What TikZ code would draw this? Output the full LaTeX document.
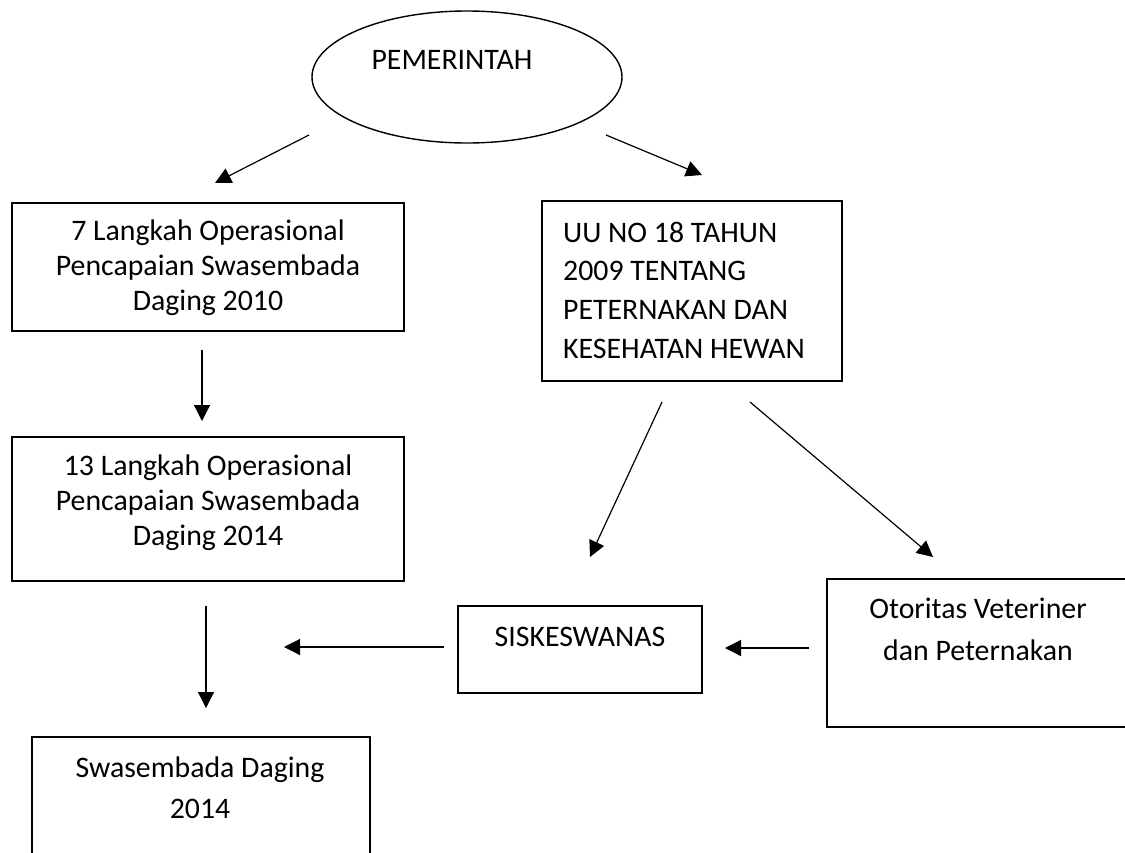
\documentclass[tikz,border=0pt]{standalone}
\usepackage{fontspec}
\setmainfont{Carlito}
\usetikzlibrary{shapes.geometric,arrows.meta}
\begin{document}
\begin{tikzpicture}[x=1pt,y=-1pt,
  boxnode/.style={draw=black, line width=1.4pt, inner sep=0pt, rectangle},
  txt/.style={inner sep=0pt, font=\fontsize{29.8}{35}\selectfont, align=center},
  arr/.style={line width=1.2pt, -{Triangle[length=16pt,width=16pt]}}]
\useasboundingbox (0,0) rectangle (1125,852);
\clip (0,0) rectangle (1125,852);
\fill[white] (0,0) rectangle (1125,852);

% ellipse
\node[ellipse, draw=black, line width=1.4pt, inner sep=0pt, minimum width=310pt, minimum height=132pt] (gov) at (467,77) {};
\node[txt] (govt) at (452,60) {PEMERINTAH};

% boxes
\node[boxnode, minimum width=392pt, minimum height=128pt] (b1) at (208,267) {};
\node[txt] (b1t) at (208,268) {7 Langkah Operasional\\Pencapaian Swasembada\\Daging 2010};

\node[boxnode, minimum width=392pt, minimum height=144pt] (b2) at (208,509) {};
\node[txt] (b2t) at (208,503) {13 Langkah Operasional\\Pencapaian Swasembada\\Daging 2014};

\node[boxnode, minimum width=300pt, minimum height=180pt] (uu) at (692,291) {};
\node[txt, align=left, anchor=west, font=\fontsize{29.8}{38.7}\selectfont] (uut) at (563,290) {UU NO 18 TAHUN\\2009 TENTANG\\PETERNAKAN DAN\\KESEHATAN HEWAN};

\node[boxnode, minimum width=244pt, minimum height=87pt] (sis) at (580,649.5) {};
\node[txt] (sist) at (580,637) {SISKESWANAS};

\node[boxnode, minimum width=320pt, minimum height=148pt] (oto) at (987,653) {};
\node[txt, font=\fontsize{29.8}{42}\selectfont] (otot) at (978,629) {Otoritas Veteriner\\dan Peternakan};

\node[boxnode, minimum width=338pt, minimum height=143pt] (sw) at (201,808.5) {};
\node[txt, font=\fontsize{29.8}{41}\selectfont] (swt) at (200,787.5) {Swasembada Daging\\2014};

% arrow end points
\coordinate (a1s) at (309,135); \coordinate (a1e) at (215,183);
\coordinate (a2s) at (606,135); \coordinate (a2e) at (702,175);
\coordinate (a3s) at (202,350); \coordinate (a3e) at (202,421);
\coordinate (a4s) at (662,402); \coordinate (a4e) at (590,557);
\coordinate (a5s) at (750,402); \coordinate (a5e) at (933,557);
\coordinate (a6s) at (809,648); \coordinate (a6e) at (725,648);
\coordinate (a7s) at (444,647); \coordinate (a7e) at (284,647);
\coordinate (a8s) at (206,606); \coordinate (a8e) at (206,708);

\draw[arr] (a1s) -- (a1e);
\draw[arr] (a2s) -- (a2e);
\draw[arr] (a3s) -- (a3e);
\draw[arr] (a4s) -- (a4e);
\draw[arr] (a5s) -- (a5e);
\draw[arr] (a6s) -- (a6e);
\draw[arr] (a7s) -- (a7e);
\draw[arr] (a8s) -- (a8e);
\end{tikzpicture}
\end{document}
